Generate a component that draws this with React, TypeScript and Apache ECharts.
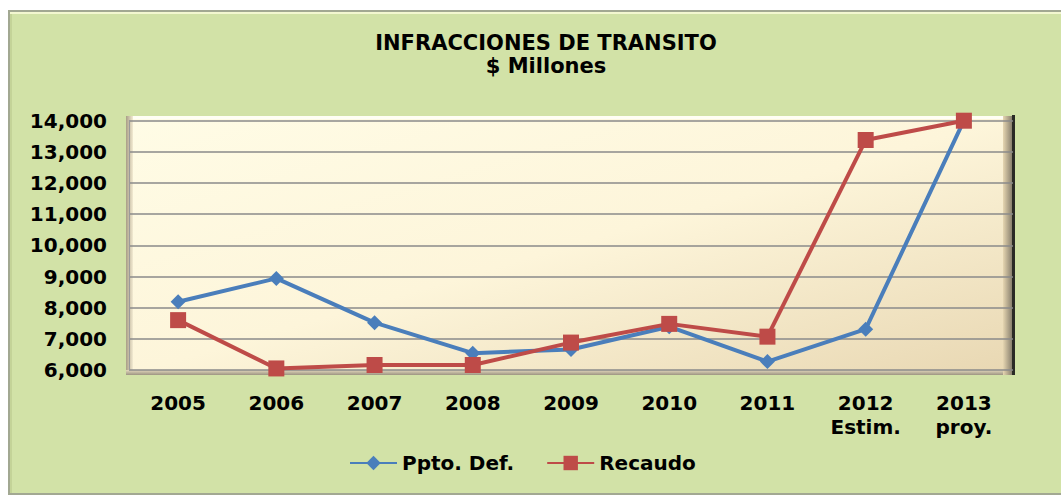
import React, { useEffect, useRef } from "react";
import * as echarts from "echarts";

const categories = ["2005", "2006", "2007", "2008", "2009", "2010", "2011", "2012\nEstim.", "2013\nproy."];
const pptoDef = [8190, 8940, 7520, 6540, 6660, 7390, 6270, 7310, 14000];
const recaudo = [7600, 6050, 6160, 6160, 6880, 7480, 7070, 13380, 14000];
const yMin = 6000;
const yMax = 14000;
const yInterval = 1000;
const titleText = "INFRACCIONES DE TRANSITO\n$ Millones";
const seriesNames = ["Ppto. Def.", "Recaudo"];

const FONT = "'DejaVu Sans', 'Liberation Sans', Arial, sans-serif";

export default function App() {
  const ref = useRef<HTMLDivElement>(null);

  useEffect(() => {
    if (!ref.current) return;
    const chart = echarts.init(ref.current, undefined, { renderer: "svg" });
    const gridLeft = 129;
    const gridRight = 1013;
    const gridTop = 120.7;
    const gridBottom = 370;
    chart.setOption({
      animation: false,
      title: {
        text: titleText,
        left: 541,
        top: 26,
        textAlign: "center",
        textStyle: {
          fontFamily: FONT,
          fontWeight: "bold",
          fontSize: 21,
          lineHeight: 23,
          color: "#000",
        },
      },
      legend: {
        data: seriesNames,
        left: 344,
        top: 448,
        itemWidth: 47,
        itemHeight: 18,
        itemGap: 32,
        textStyle: {
          fontFamily: FONT,
          fontWeight: "bold",
          fontSize: 20,
          color: "#000",
        },
      },
      grid: {
        left: gridLeft,
        right: 1061 - gridRight,
        top: gridTop,
        bottom: 498 - gridBottom,
        show: false,
      },
      graphic: [
        {
          type: "rect",
          z: -5,
          shape: { x: 127, y: 116, width: 888, height: 259 },
          style: {
            fill: new echarts.graphic.LinearGradient(0, 0, 1, 1, [
              { offset: 0, color: "#fffce6" },
              { offset: 0.5, color: "#fdf5da" },
              { offset: 1, color: "#e8d7b2" },
            ]),
          },
        },
        {
          type: "rect",
          z: -4,
          shape: { x: 127, y: 116, width: 878, height: 3 },
          style: { fill: "#fffef4" },
        },
        {
          type: "rect",
          z: -4,
          shape: { x: 126, y: 116, width: 7, height: 259 },
          style: {
            fill: new echarts.graphic.LinearGradient(0, 0, 1, 0, [
              { offset: 0, color: "#a99e87" },
              { offset: 1, color: "#f3ebd2" },
            ]),
          },
        },
        {
          type: "rect",
          z: -4,
          shape: { x: 126, y: 370, width: 889, height: 5 },
          style: {
            fill: new echarts.graphic.LinearGradient(0, 0, 0, 1, [
              { offset: 0, color: "#e3d8bc" },
              { offset: 1, color: "#9d9583" },
            ]),
          },
        },
        {
          type: "rect",
          z: -4,
          shape: { x: 1003, y: 116, width: 10, height: 259 },
          style: {
            fill: new echarts.graphic.LinearGradient(0, 0, 1, 0, [
              { offset: 0, color: "#e6d6b1" },
              { offset: 1, color: "#7f7767" },
            ]),
          },
        },
        {
          type: "rect",
          z: -4,
          shape: { x: 1012, y: 115, width: 3, height: 260 },
          style: { fill: "#2a2a26" },
        },
      ],
      xAxis: {
        type: "category",
        data: categories,
        boundaryGap: true,
        axisLine: { show: false },
        axisTick: { show: false },
        axisLabel: {
          margin: 21,
          fontFamily: FONT,
          fontWeight: "bold",
          fontSize: 20,
          lineHeight: 24,
          color: "#000",
          interval: 0,
        },
      },
      yAxis: {
        type: "value",
        min: yMin,
        max: yMax,
        interval: yInterval,
        axisLine: { show: true, lineStyle: { color: "#9a9a9a", width: 1 } },
        axisTick: { show: false },
        splitLine: { show: true, lineStyle: { color: "#8a8a8a", width: 1.5 } },
        axisLabel: {
          margin: 22,
          fontFamily: FONT,
          fontWeight: "bold",
          fontSize: 20,
          color: "#000",
          formatter: (v: number) => v.toLocaleString("en-US"),
        },
      },
      series: [
        {
          name: seriesNames[0],
          type: "line",
          data: pptoDef,
          symbol: "diamond",
          symbolSize: 15,
          color: "#4a7ebb",
          lineStyle: { width: 4, color: "#4a7ebb" },
          itemStyle: { color: "#4a7ebb" },
          z: 2,
        },
        {
          name: seriesNames[1],
          type: "line",
          data: recaudo,
          symbol: "rect",
          symbolSize: 16,
          color: "#be4b48",
          lineStyle: { width: 4, color: "#be4b48" },
          itemStyle: { color: "#be4b48" },
          z: 3,
        },
      ],
    });
    return () => chart.dispose();
  }, []);

  return (
    <div style={{ position: "fixed", left: 0, top: 0, width: 1061, height: 498, overflow: "hidden", background: "#fff" }}>
      <div
        style={{
          position: "absolute",
          left: 8,
          top: 10,
          width: 1070,
          height: 485,
          boxSizing: "border-box",
          border: "2px solid #a2a892",
          background: "#d2e2a7",
          boxShadow: "inset 0 2px 0 #f3f7d0, inset 2px 0 0 #c4d398",
        }}
      />
      <div ref={ref} style={{ position: "absolute", left: 0, top: 0, width: 1061, height: 498 }} />
    </div>
  );
}
